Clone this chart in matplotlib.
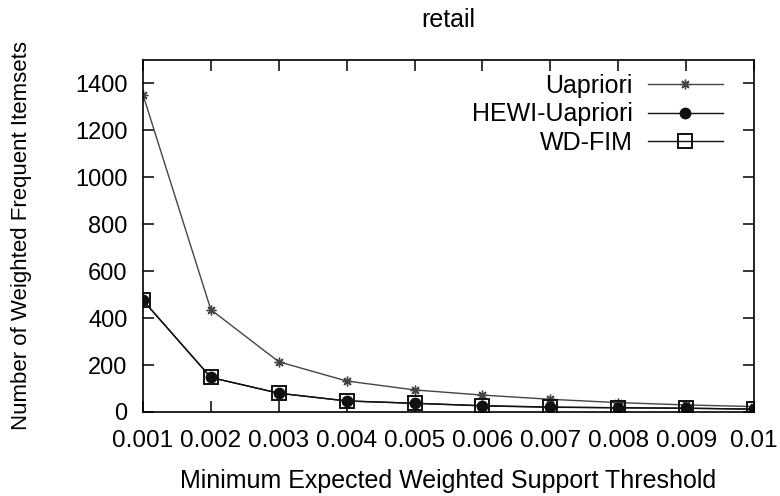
import matplotlib
matplotlib.use("Agg")
import matplotlib.pyplot as plt

plt.rcParams['font.family'] = ['Liberation Sans', 'DejaVu Sans']

thresholds = [0.001, 0.002, 0.003, 0.004, 0.005, 0.006, 0.007, 0.008, 0.009, 0.01]
xlabels = ['0.001', '0.002', '0.003', '0.004', '0.005', '0.006', '0.007', '0.008', '0.009', '0.01']
uapriori = [1352, 436, 214, 132, 94, 72, 54, 40, 30, 23]
hewi = [476, 147, 80, 47, 37, 26, 20, 18, 16, 12]
wdfim = [476, 147, 80, 47, 37, 27, 21, 18, 16, 12]

fig = plt.figure(figsize=(7.8, 4.96), dpi=100)
ax = fig.add_axes([0.1833, 0.1694, 0.7834, 0.7096])

ax.plot(thresholds, uapriori, color='#444444', lw=1.0, marker=(8, 2, 0), ms=7,
        mew=1.0, label='Uapriori')
ax.plot(thresholds, hewi, color='#111111', lw=1.0, marker='o', ms=7.5,
        label='HEWI-Uapriori')
ax.plot(thresholds, wdfim, color='#111111', lw=1.0, marker='s', ms=10.5,
        mfc='none', mew=1.4, label='WD-FIM')

ax.set_xlim(0.001, 0.01)
ax.set_ylim(0, 1500)
ax.set_xticks(thresholds)
ax.set_xticklabels(xlabels)
ax.set_yticks(range(0, 1401, 200))
ax.tick_params(direction='in', top=True, right=True, length=8, width=1.1,
               colors='black')
ax.tick_params(axis='x', pad=13, labelsize=17.5)
ax.tick_params(axis='y', pad=11, labelsize=17)
for s in ax.spines.values():
    s.set_linewidth(1.2)

ax.set_title('retail', fontsize=18, pad=24)
ax.set_xlabel('Minimum Expected Weighted Support Threshold', fontsize=18)
ax.xaxis.set_label_coords(0.5, -0.162)
ax.set_ylabel('Number of Weighted Frequent Itemsets', fontsize=16)
ax.yaxis.set_label_coords(-0.182, 0.5)

ax.legend(loc='upper right', bbox_to_anchor=(0.949, 0.96), frameon=False,
          markerfirst=False, fontsize=18, handlelength=3.0, handletextpad=0.6,
          borderpad=0, borderaxespad=0, labelspacing=0.17)

fig.savefig('out.png', dpi=100)
